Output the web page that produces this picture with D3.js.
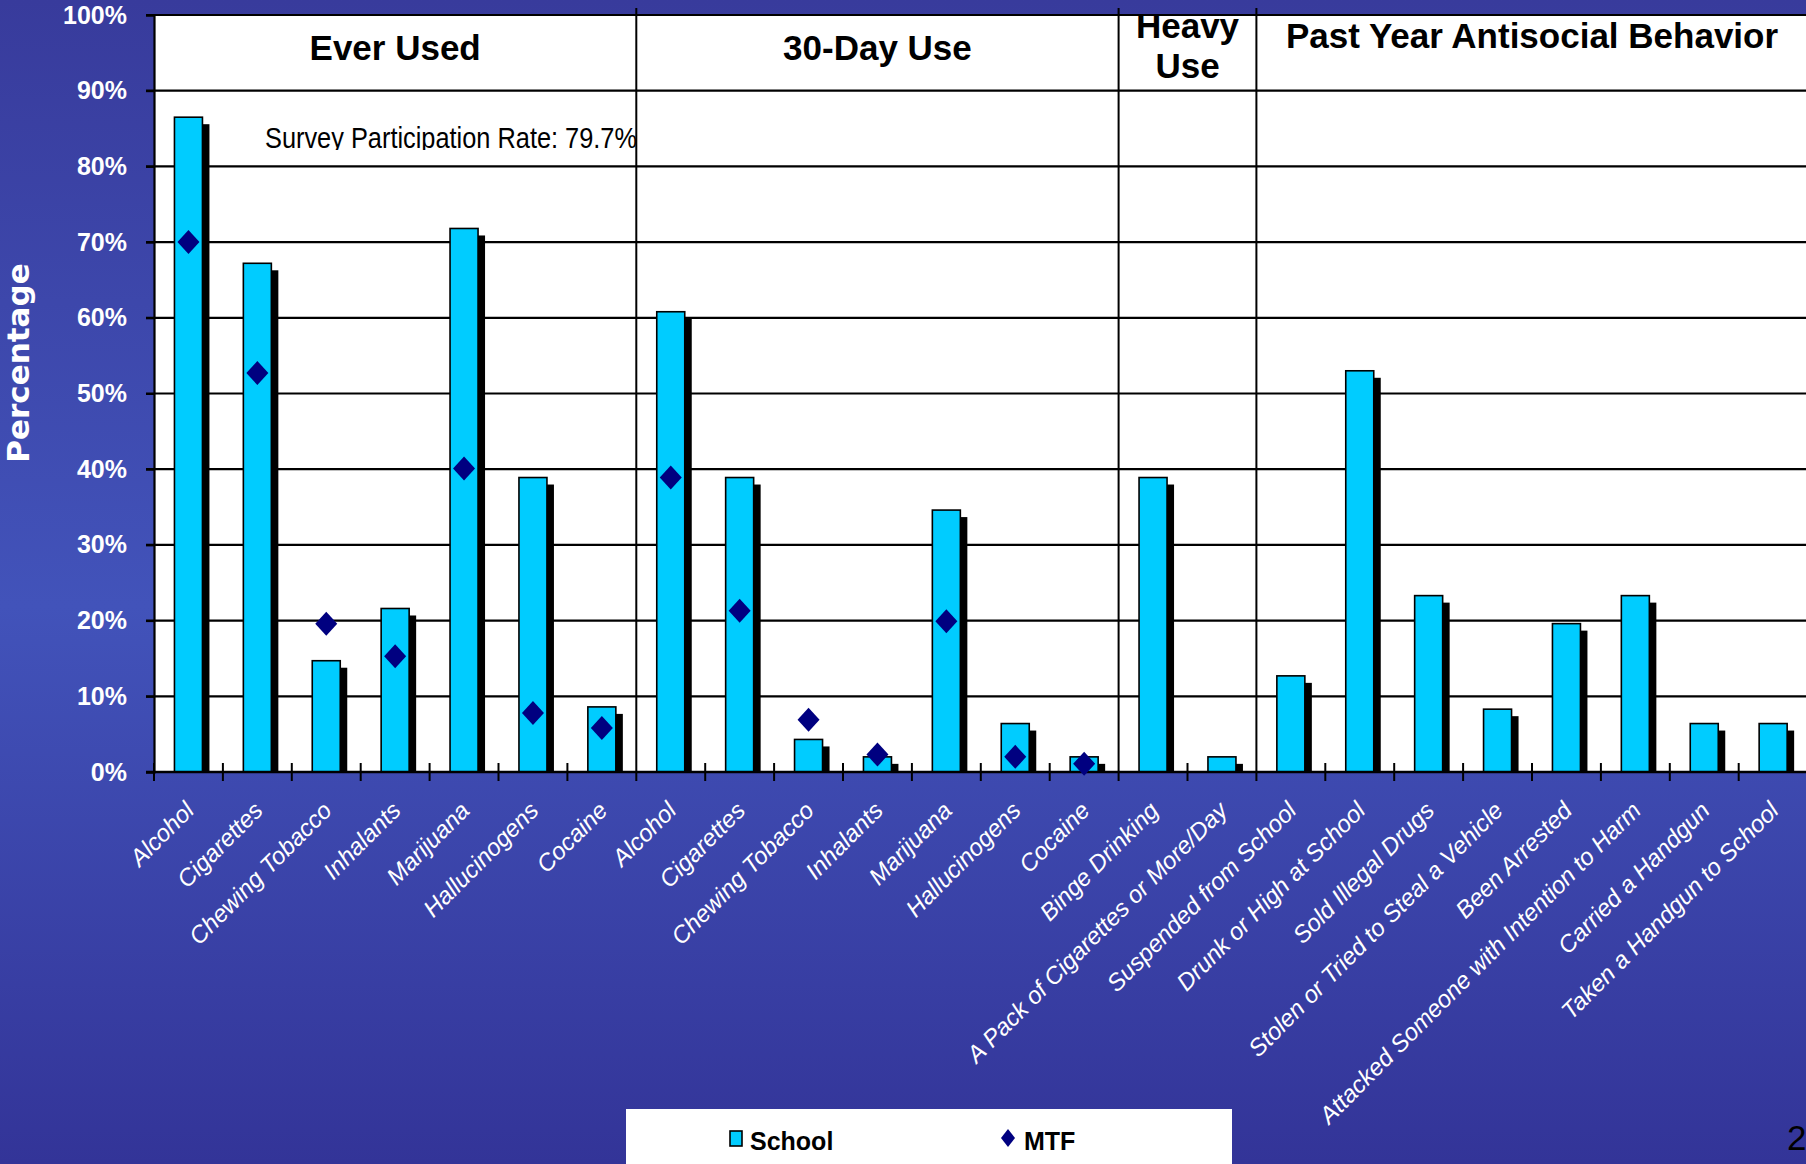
<!DOCTYPE html>
<html>
<head>
<meta charset="utf-8">
<script src="https://d3js.org/d3.v7.min.js"></script>
<style>
  body { margin: 0; background: #3a3f9f; overflow: hidden; }
  svg { display: block; }
</style>
</head>
<body>
<svg id="chart" width="1806" height="1164"></svg>
<script>
// categories along the x axis, in the order they are drawn
var categories = [
    "Alcohol", "Cigarettes", "Chewing Tobacco", "Inhalants", "Marijuana", "Hallucinogens", "Cocaine",
    "Alcohol", "Cigarettes", "Chewing Tobacco", "Inhalants", "Marijuana", "Hallucinogens", "Cocaine",
    "Binge Drinking", "A Pack of Cigarettes or More/Day",
    "Suspended from School", "Drunk or High at School", "Sold Illegal Drugs",
    "Stolen or Tried to Steal a Vehicle", "Been Arrested", "Attacked Someone with Intention to Harm",
    "Carried a Handgun", "Taken a Handgun to School"
]
var groupNames = [["Ever Used"], ["30-Day Use"], ["Heavy", "Use"], ["Past Year Antisocial Behavior"]]
var groupSizes = [7, 7, 2, 8]

// percentages (School = bars, MTF = diamonds)
var schoolValues = [86.5, 67.2, 14.7, 21.6, 71.8, 38.9, 8.6,
    60.8, 38.9, 4.3, 2.0, 34.6, 6.4, 2.0,
    38.9, 2.0,
    12.7, 53.0, 23.3, 8.3, 19.6, 23.3, 6.4, 6.4]
var mtfValues = [70.0, 52.7, 19.6, 15.3, 40.1, 7.8, 5.8,
    38.9, 21.3, 6.9, 2.3, 19.9, 2.0, 1.1,
    null, null,
    null, null, null, null, null, null, null, null]
var yTicks = [0, 10, 20, 30, 40, 50, 60, 70, 80, 90, 100]
var note = "Survey Participation Rate: 79.7%"

var W = 1806, H = 1164
var plotLeft = 154, plotRight = 154 + 24 * 68.9, plotTop = 15, plotBottom = 772
var font = "'Liberation Sans', Arial, sans-serif"

var svg = d3.select("#chart")

// background gradient
var defs = svg.append("defs")
var grad = defs.append("linearGradient")
    .attr("id", "bg")
    .attr("x1", 0).attr("y1", 0).attr("x2", 0).attr("y2", 1)
grad.append("stop").attr("offset", "0%").attr("stop-color", "#383b9c")
grad.append("stop").attr("offset", "52%").attr("stop-color", "#4253ba")
grad.append("stop").attr("offset", "100%").attr("stop-color", "#333498")

defs.append("clipPath").attr("id", "noteClip")
    .append("rect").attr("x", 200).attr("y", 100).attr("width", 500).attr("height", 50)

svg.append("rect").attr("width", W).attr("height", H).attr("fill", "url(#bg)")

var x = d3.scaleBand().domain(d3.range(categories.length)).range([plotLeft, plotRight])
var y = d3.scaleLinear().domain([0, 100]).range([plotBottom, plotTop])
var barW = 28

// white plot area
svg.append("rect")
    .attr("x", plotLeft).attr("y", plotTop)
    .attr("width", plotRight - plotLeft).attr("height", plotBottom - plotTop)
    .attr("fill", "white")

// gridlines
svg.append("g")
    .selectAll("line")
    .data(yTicks)
    .enter()
    .append("line")
    .attr("x1", plotLeft - 8).attr("x2", plotRight)
    .attr("y1", function(d){ return y(d) })
    .attr("y2", function(d){ return y(d) })
    .attr("stroke", "black")
    .attr("stroke-width", 2.2)

// group dividers + headers
var starts = [0]
groupSizes.forEach(function(s, i){ starts.push(starts[i] + s) })

svg.append("g")
    .selectAll("line")
    .data(starts.slice(1, groupSizes.length))
    .enter()
    .append("line")
    .attr("x1", function(d){ return x(d) })
    .attr("x2", function(d){ return x(d) })
    .attr("y1", plotTop - 7).attr("y2", plotBottom - 9)
    .attr("stroke", "black")
    .attr("stroke-width", 2)

var header = svg.append("g")
groupNames.forEach(function(lines, i){
    var cx = (x(starts[i]) + x(starts[i + 1] - 1) + x.bandwidth()) / 2
    var y0 = lines.length > 1 ? 38 : (i == 3 ? 48 : 60)
    lines.forEach(function(t, j){
        header.append("text")
            .attr("x", cx)
            .attr("y", y0 + j * 40)
            .attr("text-anchor", "middle")
            .style("font-family", font)
            .style("font-weight", "bold")
            .style("font-size", "35px")
            .attr("fill", "black")
            .text(t)
    })
})

// note
svg.append("text")
    .attr("x", 265).attr("y", 148)
    .attr("clip-path", "url(#noteClip)")
    .attr("textLength", 372)
    .attr("lengthAdjust", "spacingAndGlyphs")
    .style("font-family", font)
    .style("font-size", "29px")
    .attr("fill", "black")
    .text(note)

// y axis
var yAxis = d3.axisLeft(y)
    .tickValues(yTicks)
    .tickFormat(function(d){ return d + "%" })
    .tickSize(8)
    .tickPadding(19)

var gy = svg.append("g")
    .attr("transform", "translate(" + plotLeft + ",0)")
    .call(yAxis)
gy.select(".domain").attr("stroke", "black").attr("stroke-width", 2.2)
gy.selectAll(".tick line").attr("stroke", "black").attr("stroke-width", 2)
gy.selectAll("text")
    .attr("fill", "white")
    .style("font-family", font)
    .style("font-weight", "bold")
    .style("font-size", "25px")

svg.append("text")
    .attr("transform", "translate(29,363) rotate(-90)")
    .attr("text-anchor", "middle")
    .style("font-family", "'DejaVu Sans', Verdana, sans-serif")
    .style("font-weight", "bold")
    .style("font-size", "31px")
    .attr("fill", "white")
    .text("Percentage")

// bar shadows
svg.append("g")
    .selectAll(".shadow")
    .data(schoolValues)
    .enter()
    .append("rect")
    .attr("class", "shadow")
    .attr("x", function(d, i){ return x(i) + x.bandwidth() / 2 - barW / 2 + 7 })
    .attr("y", function(d){ return Math.min(y(d) + 7, y(0)) })
    .attr("width", barW)
    .attr("height", function(d){ return Math.max(0, y(0) - y(d) - 7) })
    .attr("fill", "black")

// bars
svg.append("g")
    .selectAll(".bar")
    .data(schoolValues)
    .enter()
    .append("rect")
    .attr("class", "bar")
    .attr("x", function(d, i){ return x(i) + x.bandwidth() / 2 - barW / 2 })
    .attr("y", function(d){ return y(d) })
    .attr("width", barW)
    .attr("height", function(d){ return y(0) - y(d) })
    .style("fill", "#00ccff")
    .attr("stroke", "black")
    .attr("stroke-width", 1.6)

// x axis line + boundary ticks
svg.append("line")
    .attr("x1", plotLeft - 8).attr("x2", plotRight)
    .attr("y1", y(0)).attr("y2", y(0))
    .attr("stroke", "black")
    .attr("stroke-width", 2.6)

svg.append("g")
    .selectAll("line")
    .data(d3.range(categories.length + 1))
    .enter()
    .append("line")
    .attr("x1", function(d){ return plotLeft + d * x.step() })
    .attr("x2", function(d){ return plotLeft + d * x.step() })
    .attr("y1", y(0) - 9).attr("y2", y(0) + 9)
    .attr("stroke", "black")
    .attr("stroke-width", 2)

// MTF diamonds
var diamond = "M0,-12L11,0L0,12L-11,0Z"
svg.append("g")
    .selectAll("path")
    .data(mtfValues.map(function(v, i){ return {i: i, v: v} }).filter(function(d){ return d.v != null }))
    .enter()
    .append("path")
    .attr("d", diamond)
    .attr("transform", function(d){
        return "translate(" + (x(d.i) + x.bandwidth() / 2) + "," + y(d.v) + ")"
    })
    .attr("fill", "#000080")

// category labels
svg.append("g")
    .selectAll("text")
    .data(categories)
    .enter()
    .append("text")
    .attr("transform", function(d, i){
        return "translate(" + (x(i) + x.bandwidth() / 2 + 7) + ",812) rotate(-45)"
    })
    .attr("text-anchor", "end")
    .style("font-family", font)
    .style("font-style", "italic")
    .style("font-size", "24px")
    .attr("fill", "white")
    .text(function(d){ return d })

// legend
var lg = svg.append("g")
lg.append("rect")
    .attr("x", 626).attr("y", 1109)
    .attr("width", 606).attr("height", 60)
    .attr("fill", "white")
lg.append("rect")
    .attr("x", 730).attr("y", 1131)
    .attr("width", 12).attr("height", 15)
    .style("fill", "#00ccff")
    .attr("stroke", "black")
    .attr("stroke-width", 1.6)
lg.append("text")
    .attr("x", 750).attr("y", 1150)
    .style("font-family", font)
    .style("font-weight", "bold")
    .style("font-size", "25px")
    .text("School")
lg.append("path")
    .attr("d", "M0,-9L7,0L0,9L-7,0Z")
    .attr("transform", "translate(1008,1138)")
    .attr("fill", "#000080")
lg.append("text")
    .attr("x", 1024).attr("y", 1150)
    .style("font-family", font)
    .style("font-weight", "bold")
    .style("font-size", "25px")
    .text("MTF")

// page number
svg.append("text")
    .attr("x", 1787).attr("y", 1150)
    .style("font-family", font)
    .style("font-size", "35px")
    .attr("fill", "black")
    .text("2")
</script>
</body>
</html>
